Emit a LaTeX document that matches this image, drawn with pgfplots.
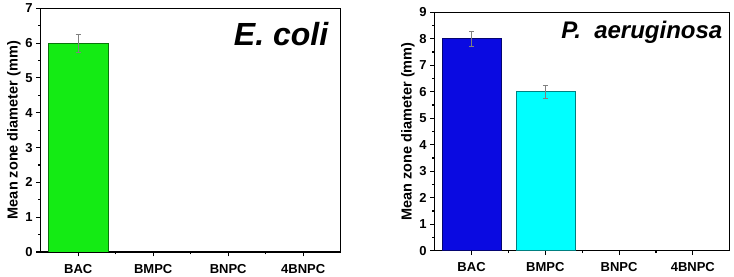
\documentclass[border=0pt]{standalone}
\usepackage{fontspec}
\setmainfont{Liberation Sans}
\usepackage{pgfplots}
\pgfplotsset{compat=1.18}
\definecolor{bgreen}{RGB}{20,235,20}
\definecolor{bblue}{RGB}{10,10,225}
\definecolor{bcyan}{RGB}{0,255,255}
\pgfplotsset{mystyle/.style={
  scale only axis,
  axis line style={line width=1.3pt},
  xmin=-0.5, xmax=3.5,
  xtick={0,1,2,3}, xticklabels={BAC,BMPC,BNPC,4BNPC},
  minor x tick num=1, minor y tick num=1,
  tick align=outside, xtick pos=bottom, ytick pos=left,
  major tick length=4.5pt, minor tick length=2.5pt,
  tick style={black, line width=1.1pt},
  ticklabel style={font=\fontsize{13}{13}\selectfont\bfseries},
  xticklabel style={yshift=-4pt},
  /pgf/number format/assume math mode=true,
  ylabel={Mean zone diameter (mm)},
  ylabel style={font=\fontsize{14.5}{15}\selectfont\bfseries, yshift=-2pt},
  ymin=0,
  ytick distance=1,
}}
\begin{document}
\begin{tikzpicture}
\path[use as bounding box] (0,0) rectangle (734pt,276pt);
\begin{axis}[mystyle, at={(40.7pt,24pt)}, anchor=south west, width=300pt, height=243.7pt, ymax=7]
\addplot+[ybar, bar width=0.8, bar shift=0pt, fill=bgreen, draw=bgreen!50!black, line width=0.6pt, mark=none,
  error bars/.cd, y dir=both, y explicit,
  error bar style={gray, line width=0.5pt},
  error mark options={gray, rotate=90, mark size=2.5pt, line width=0.5pt}]
  coordinates {(0,6) +- (0,0.25)};
\node[anchor=base east, font=\fontsize{32}{32}\selectfont\bfseries\itshape] at (axis description cs:0.97,0.849) {E. coli};
\end{axis}
\begin{axis}[mystyle, at={(434.7pt,25.3pt)}, anchor=south west, width=295pt, height=238.4pt, ymax=9]
\addplot+[ybar, bar width=0.8, bar shift=0pt, fill=bblue, draw=bblue!50!black, line width=0.6pt, mark=none,
  error bars/.cd, y dir=both, y explicit,
  error bar style={gray, line width=0.5pt},
  error mark options={gray, rotate=90, mark size=2.5pt, line width=0.5pt}]
  coordinates {(0,8) +- (0,0.3)};
\addplot+[ybar, bar width=0.8, bar shift=0pt, fill=bcyan, draw=bcyan!50!black, line width=0.6pt, mark=none,
  error bars/.cd, y dir=both, y explicit,
  error bar style={gray, line width=0.5pt},
  error mark options={gray, rotate=90, mark size=2.5pt, line width=0.5pt}]
  coordinates {(1,6) +- (0,0.25)};
\node[anchor=base east, font=\fontsize{24}{24}\selectfont\bfseries\itshape] at (axis description cs:0.987,0.892) {P.\ \ aeruginosa};
\end{axis}
\end{tikzpicture}
\end{document}
